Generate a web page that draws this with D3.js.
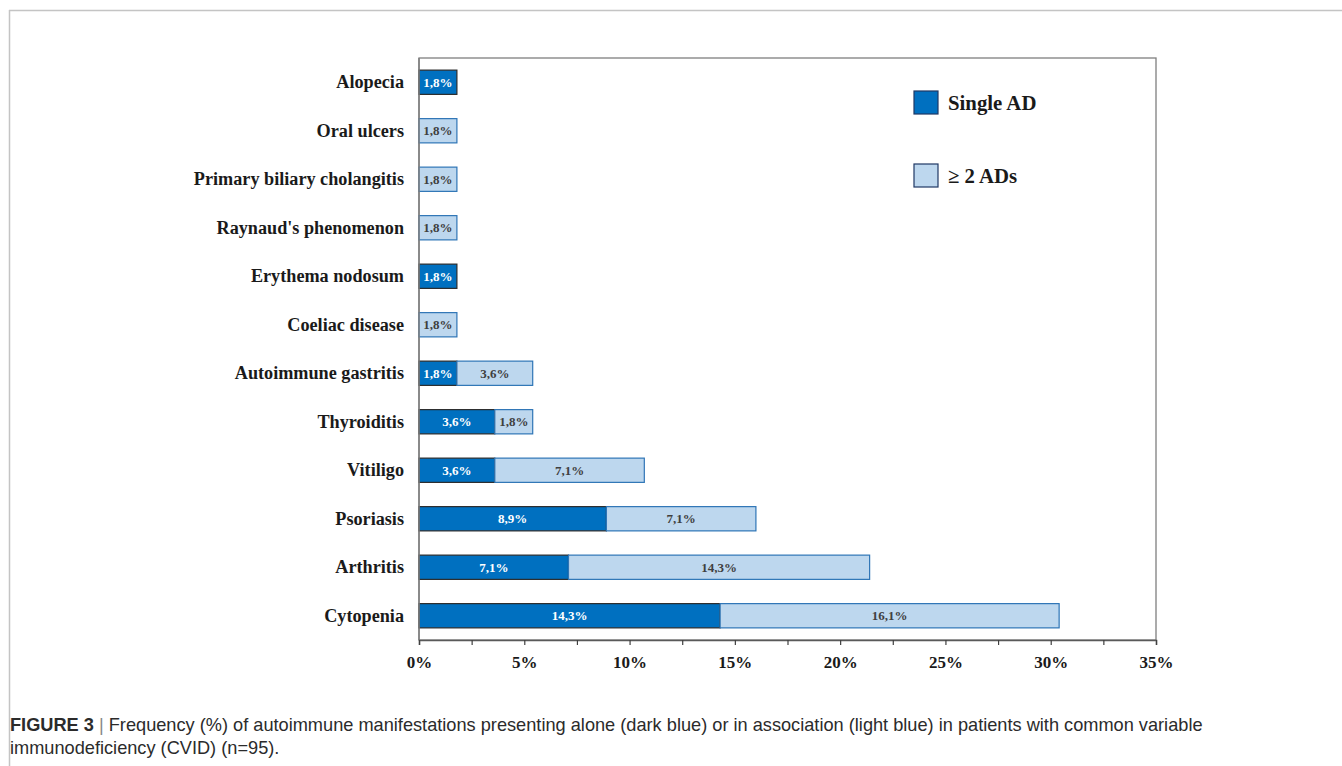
<!DOCTYPE html>
<html><head><meta charset="utf-8">
<script src="https://cdn.jsdelivr.net/npm/d3@7"></script>
<style>body{margin:0;background:#fff;} svg{display:block;}</style>
</head><body>
<svg id="chart" width="1342" height="766"></svg>
<script>
const categories = ["Alopecia","Oral ulcers","Primary biliary cholangitis","Raynaud's phenomenon","Erythema nodosum","Coeliac disease","Autoimmune gastritis","Thyroiditis","Vitiligo","Psoriasis","Arthritis","Cytopenia"];
const singleAD = [1.8,0,0,0,1.8,0,1.8,3.6,3.6,8.9,7.1,14.3];
const multiAD  = [0,1.8,1.8,1.8,0,1.8,3.6,1.8,7.1,7.1,14.3,16.1];
const xTicks = [0,5,10,15,20,25,30,35];
const seriesNames = ["Single AD","\u2265 2 ADs"];

const svg = d3.select("#chart");
const serif = "'Liberation Serif','Times New Roman',serif";
const sans = "'Liberation Sans',Arial,sans-serif";

// outer frame
svg.append("line").attr("x1",9).attr("x2",1342).attr("y1",10.5).attr("y2",10.5).attr("stroke","#c4c4c4").attr("stroke-width",1.5);
svg.append("line").attr("x1",9.5).attr("x2",9.5).attr("y1",10).attr("y2",766).attr("stroke","#c4c4c4").attr("stroke-width",1.5);

const L=419, R=1156, T=58, B=640;
const x = d3.scaleLinear().domain([0,35]).range([L,R]);
const y = d3.scaleBand().domain(categories).range([T,B]).paddingInner(0.5).paddingOuter(0.25);

// plot box
svg.append("rect").attr("x",L).attr("y",T).attr("width",R-L).attr("height",B-T).attr("fill","none").attr("stroke","#7f7f7f").attr("stroke-width",1.3);

// bars
const data = categories.map((c,i)=>({c, s:singleAD[i], m:multiAD[i]}));
const g = svg.append("g");
data.forEach(d=>{
  const yy = y(d.c), h = y.bandwidth();
  if(d.s>0){
    g.append("rect").attr("x",x(0)).attr("y",yy).attr("width",x(d.s)-x(0)).attr("height",h)
      .attr("fill","#0070C0").attr("stroke","#2b2b2b").attr("stroke-width",1.2);
    g.append("text").attr("x",(x(0)+x(d.s))/2).attr("y",yy+h/2).attr("dy","0.35em")
      .attr("text-anchor","middle").attr("font-family",serif).attr("font-weight","bold").attr("font-size",13)
      .attr("fill","#fff").text(String(d.s).replace(".",",")+"%");
  }
  if(d.m>0){
    g.append("rect").attr("x",x(d.s)).attr("y",yy).attr("width",x(d.s+d.m)-x(d.s)).attr("height",h)
      .attr("fill","#BDD7EE").attr("stroke","#2E75B6").attr("stroke-width",1.2);
    g.append("text").attr("x",(x(d.s)+x(d.s+d.m))/2).attr("y",yy+h/2).attr("dy","0.35em")
      .attr("text-anchor","middle").attr("font-family",serif).attr("font-weight","bold").attr("font-size",13)
      .attr("fill","#3f3f3f").text(String(d.m).replace(".",",")+"%");
  }
});

// y axis labels
const yAxis = d3.axisLeft(y).tickSize(0).tickPadding(15);
const ya = svg.append("g").attr("transform",`translate(${L},0)`).call(yAxis);
ya.select(".domain").remove();
ya.selectAll("text").attr("font-family",serif).attr("font-weight","bold").attr("font-size",18.2).attr("fill","#1a1a1a");
svg.append("line").attr("x1",L).attr("x2",L).attr("y1",T).attr("y2",B).attr("stroke","#7f7f7f").attr("stroke-width",1.5);

// x axis
const xAxis = d3.axisBottom(x).tickValues(d3.range(0,35.1,2.5)).tickSize(5).tickFormat(d=> xTicks.includes(d)? d+"%":"");
const xa = svg.append("g").attr("transform",`translate(0,${B})`).call(xAxis);
xa.select(".domain").attr("stroke","#595959").attr("stroke-width",1.5);
xa.selectAll(".tick line").attr("stroke","#404040").attr("stroke-width",1.2);
xa.selectAll("text").attr("font-family",serif).attr("font-weight","bold").attr("font-size",17).attr("fill","#1a1a1a").attr("dy","1.2em");

// legend
const legColors = ["#0070C0","#BDD7EE"];
seriesNames.forEach((n,i)=>{
  const ly = 91 + i*73;
  svg.append("rect").attr("x",914).attr("y",ly).attr("width",24).attr("height",23)
    .attr("fill",legColors[i]).attr("stroke","#1f3864").attr("stroke-width",1.2);
  svg.append("text").attr("x",948).attr("y",ly+11.5).attr("dy","0.35em")
    .attr("font-family",serif).attr("font-weight","bold").attr("font-size",20.8).attr("fill","#1a1a1a").text(n);
});

// caption
const cap = svg.append("text").attr("font-family",sans).attr("font-size",18.2).attr("fill","#2b2b2b");
const l1 = cap.append("tspan").attr("x",10).attr("y",731);
l1.append("tspan").attr("font-weight","bold").text("FIGURE 3");
l1.append("tspan").attr("fill","#888").text(" | ");
l1.append("tspan").text("Frequency (%) of autoimmune manifestations presenting alone (dark blue) or in association (light blue) in patients with common variable");
cap.append("tspan").attr("x",10).attr("y",754).text("immunodeficiency (CVID) (n=95).");
</script>
</body></html>
